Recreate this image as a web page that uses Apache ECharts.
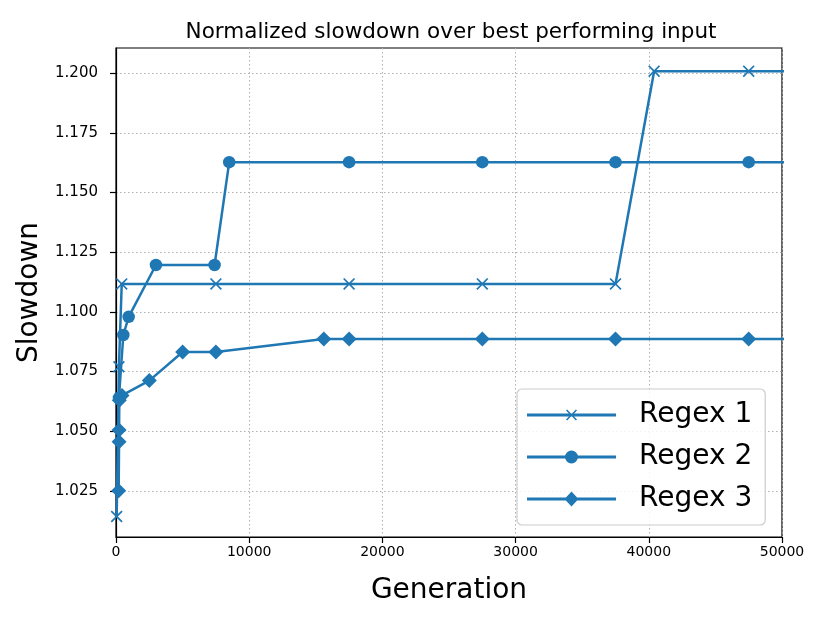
<!DOCTYPE html>
<html>
<head>
<meta charset="utf-8">
<script src="https://cdn.jsdelivr.net/npm/echarts@6/dist/echarts.min.js"></script>
<style>
html,body{margin:0;padding:0;background:#fff;}
#c{width:830px;height:623px;}
</style>
</head>
<body>
<div id="c"></div>
<script>
var seriesNames = ['Regex 1', 'Regex 2', 'Regex 3'];
var gen1 = [50, 220, 430, 7500, 17500, 27500, 37500, 40400, 47500, 57500];
var val1 = [1.0143, 1.077, 1.1117, 1.1117, 1.1117, 1.1117, 1.1117, 1.2008, 1.2008, 1.2008];
var gen2 = [220, 550, 950, 3000, 7400, 8500, 17500, 27500, 37500, 47500, 57500];
var val2 = [1.064, 1.0903, 1.0979, 1.1196, 1.1196, 1.1627, 1.1627, 1.1627, 1.1627, 1.1627, 1.1627];
var gen3 = [200, 230, 230, 250, 450, 2500, 5000, 7500, 15600, 17500, 27500, 37500, 47500, 57500];
var val3 = [1.0251, 1.0456, 1.0505, 1.063, 1.065, 1.0712, 1.0832, 1.0832, 1.0886, 1.0886, 1.0886, 1.0886, 1.0886, 1.0886];
var yTicks = [1.025, 1.050, 1.075, 1.100, 1.125, 1.150, 1.175, 1.200];

function pairs(g, v) { return g.map(function (x, i) { return [x, v[i]]; }); }

var color = '#1f77b4';
var xSym = 'path://M1,0 L5,4 L9,0 L10,1 L6,5 L10,9 L9,10 L5,6 L1,10 L0,9 L4,5 L0,1 Z';
var font = 'DejaVu Sans';

var legLine = 'M0,7.6 L89,7.6 L89,10.4 L0,10.4 Z ';
var legIcons = [
  'path://' + legLine + 'M40.1,3.5 L44.5,7.9 L48.9,3.5 L50,4.6 L45.6,9 L50,13.4 L48.9,14.5 L44.5,10.1 L40.1,14.5 L39,13.4 L43.4,9 L39,4.6 Z',
  'path://' + legLine + 'M38,9 A6.5,6.5 0 1,1 51,9 A6.5,6.5 0 1,1 38,9 Z',
  'path://' + legLine + 'M44.5,1.5 L51.5,9 L44.5,16.5 L37.5,9 Z'
];

var chart = echarts.init(document.getElementById('c'), null, {renderer: 'canvas'});
chart.setOption({
  animation: false,
  backgroundColor: '#fff',
  color: [color, color, color],
  title: {
    text: 'Normalized slowdown over best performing input',
    left: 446, top: 16, textAlign: 'center',
    textStyle: {fontFamily: font, fontSize: 21.5, fontWeight: 'normal', color: '#000'}
  },
  grid: {left: 116, right: 48, top: 48, bottom: 86, show: true, borderColor: '#000', borderWidth: 1.2, backgroundColor: 'transparent'},
  legend: {
    orient: 'vertical', left: 517, top: 389,
    padding: [11, 13, 11, 10],
    itemWidth: 89, itemHeight: 18, itemGap: 12,
    backgroundColor: 'rgba(255,255,255,0.85)', borderColor: '#cccccc', borderWidth: 1.2, borderRadius: 5,
    textStyle: {fontFamily: font, fontSize: 28, color: '#000', lineHeight: 30, padding: [0, 0, 0, 18]},
    data: seriesNames.map(function (n, i) { return {name: n, icon: legIcons[i]}; })
  },
  xAxis: {
    type: 'value', min: 0, max: 50000, interval: 10000,
    name: 'Generation', nameLocation: 'middle', nameGap: 40,
    nameTextStyle: {fontFamily: font, fontSize: 28, color: '#000'},
    axisLine: {show: true, lineStyle: {color: '#000', width: 1.2}},
    axisTick: {show: true, length: 6, inside: false, lineStyle: {color: '#000', width: 1.2}},
    axisLabel: {fontFamily: font, fontSize: 14, color: '#000', margin: 8,
      formatter: function (v) { return String(v); }},
    splitLine: {show: true, lineStyle: {color: '#b0b0b0', type: [1.5, 2.5], width: 1}}
  },
  yAxis: {
    type: 'value', min: 1.0057, max: 1.2105,
    name: 'Slowdown', nameLocation: 'middle', nameGap: 72, nameRotate: 90,
    nameTextStyle: {fontFamily: font, fontSize: 28, color: '#000'},
    axisLine: {show: true, lineStyle: {color: '#000', width: 1.2}},
    axisTick: {show: true, length: 6, inside: false, customValues: yTicks, lineStyle: {color: '#000', width: 1.2}},
    axisLabel: {fontFamily: font, fontSize: 15, color: '#000', margin: 18, customValues: yTicks,
      formatter: function (v) { return v.toFixed(3); }},
    splitLine: {show: true, lineStyle: {color: '#b0b0b0', type: [1.5, 2.5], width: 1}}
  },
  series: [
    {name: seriesNames[0], type: 'line', data: pairs(gen1, val1), symbol: xSym, symbolSize: 12,
      lineStyle: {width: 2.5, color: color}, itemStyle: {color: color}, clip: true},
    {name: seriesNames[1], type: 'line', data: pairs(gen2, val2), symbol: 'circle', symbolSize: 12.5,
      lineStyle: {width: 2.5, color: color}, itemStyle: {color: color}, clip: true},
    {name: seriesNames[2], type: 'line', data: pairs(gen3, val3), symbol: 'diamond', symbolSize: 15,
      lineStyle: {width: 2.5, color: color}, itemStyle: {color: color}, clip: true}
  ]
});
</script>
</body>
</html>
